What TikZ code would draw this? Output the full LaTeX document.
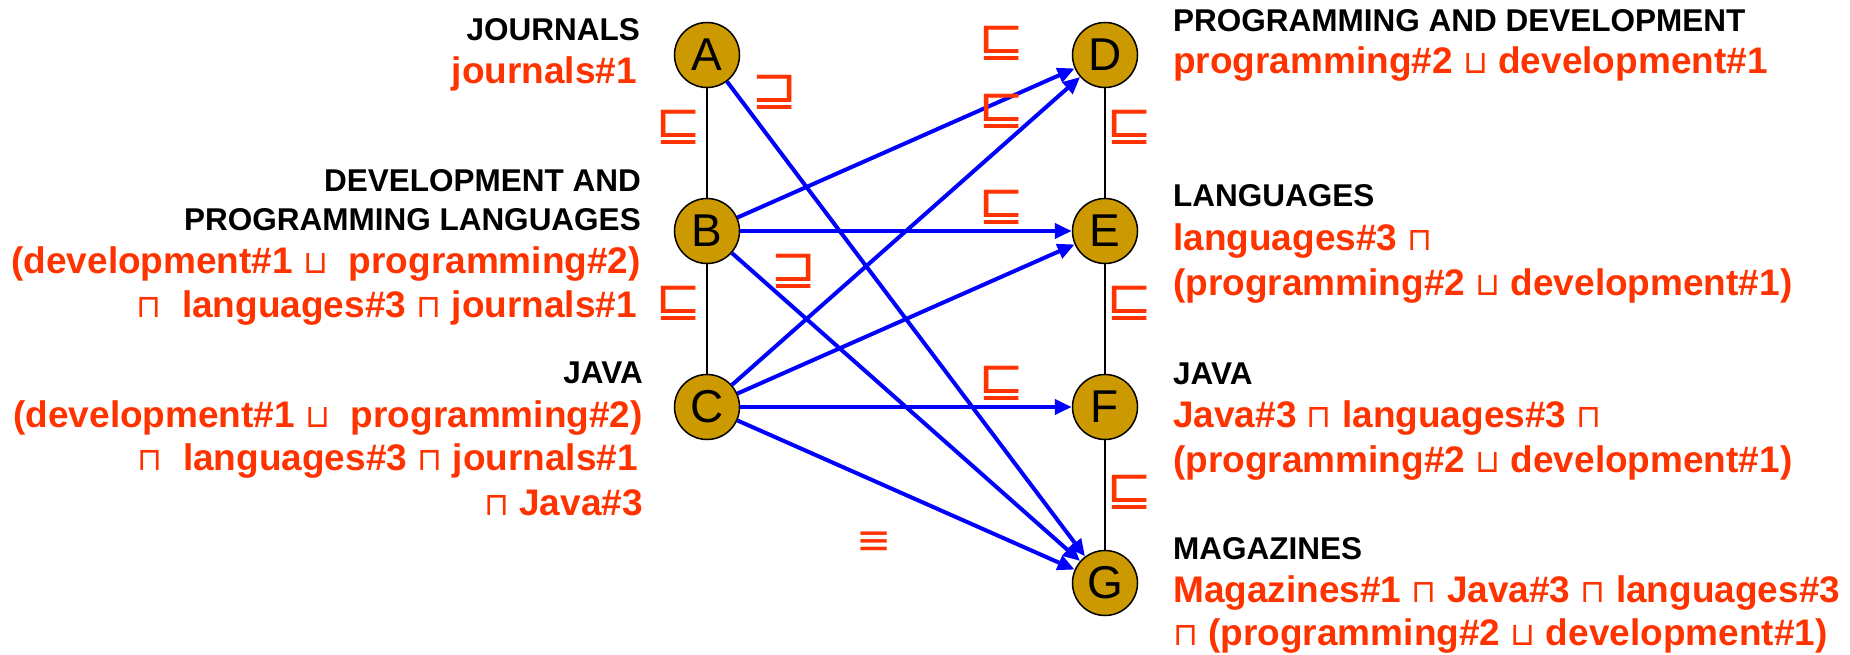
\documentclass[tikz,border=0pt]{standalone}
\usepackage{fontspec}
\setmainfont{Liberation Sans}
\newfontfamily\symfont{DejaVu Sans}
\usetikzlibrary{arrows.meta}
\definecolor{redtxt}{RGB}{255,51,0}
\definecolor{gold}{RGB}{204,153,0}
\definecolor{arrowblue}{RGB}{0,0,255}
\newcommand{\cupsym}{{\symfont\mdseries\fontsize{32}{32}\selectfont ⊔}}
\newcommand{\capsym}{{\symfont\mdseries\fontsize{32}{32}\selectfont ⊓}}
\newcommand{\relwide}[1]{\scalebox{1.15}[1]{#1}}
\begin{document}
\begin{tikzpicture}[x=1pt,y=-1pt,
  vertex/.style={circle, draw=black, line width=1.5pt, fill=gold, minimum size=65pt, inner sep=0pt, font=\fontsize{46}{46}\selectfont},
  ttl/.style={inner sep=0pt, font=\fontsize{31.5}{36}\selectfont\bfseries, text=black},
  expr/.style={inner sep=0pt, font=\fontsize{37}{44}\selectfont\bfseries, text=redtxt},
  rel/.style={inner sep=0pt, font=\symfont\fontsize{48}{48}\selectfont, text=redtxt},
  link/.style={draw=black, line width=1.5pt},
  sub/.style={draw=arrowblue, line width=4pt, -{Triangle[length=17pt,width=15pt]}},
  lft/.style={anchor=base east},
  rgt/.style={anchor=base west},
]
\useasboundingbox (0,0) rectangle (1850,655);

% vertices
\node[vertex] (A) at (707,55) {A};
\node[vertex] (B) at (707,231) {B};
\node[vertex] (C) at (707,407) {C};
\node[vertex] (D) at (1105,55) {D};
\node[vertex] (E) at (1105,231) {E};
\node[vertex] (F) at (1105,407) {F};
\node[vertex] (G) at (1105,583) {G};

% hierarchy links
\draw[link] (A) -- (B);
\draw[link] (B) -- (C);
\draw[link] (D) -- (E);
\draw[link] (E) -- (F);
\draw[link] (F) -- (G);

% mappings
\draw[sub] (A) -- (G);
\draw[sub] (B) -- (D);
\draw[sub] (B) -- (E);
\draw[sub] (B) -- (G);
\draw[sub] (C) -- (D);
\draw[sub] (C) -- (E);
\draw[sub] (C) -- (F);
\draw[sub] (C) -- (G);

% relation labels
\node[rel] (r1) at (679,127) {\relwide{⊑}};
\node[rel] (r2) at (679,303) {\relwide{⊑}};
\node[rel] (r3) at (1130,127) {\relwide{⊑}};
\node[rel] (r4) at (1130,303) {\relwide{⊑}};
\node[rel] (r5) at (1130,492) {\relwide{⊑}};
\node[rel] (r6) at (1002,43) {\relwide{⊑}};
\node[rel] (r7) at (1002,111) {\relwide{⊑}};
\node[rel] (r8) at (1002,207) {\relwide{⊑}};
\node[rel] (r9) at (1002,383) {\relwide{⊑}};
\node[rel] (r10) at (775,92) {\relwide{⊒}};
\node[rel] (r11) at (794,271) {\relwide{⊒}};
\node[rel,font=\symfont\fontsize{42}{42}\selectfont] (r12) at (874,543) {≡};

% left labels
\node[ttl,lft] (lA1) at (640,41) {JOURNALS};
\node[expr,lft] (lA2) at (637,84) {journals\#1};
\node[ttl,lft] (lB1) at (641,192) {DEVELOPMENT AND};
\node[ttl,lft] (lB2) at (641,230) {PROGRAMMING LANGUAGES};
\node[expr,lft] (lB3) at (641,273) {(development\#1 \cupsym\ \ programming\#2)};
\node[expr,lft] (lB4) at (637,317) {\capsym\ \ languages\#3 \capsym\ journals\#1};
\node[ttl,lft] (lC1) at (643,383) {JAVA};
\node[expr,lft] (lC2) at (643,427) {(development\#1 \cupsym\ \ programming\#2)};
\node[expr,lft] (lC3) at (638,470) {\capsym\ \ languages\#3 \capsym\ journals\#1};
\node[expr,lft] (lC4) at (643,515) {\capsym\ Java\#3};

% right labels
\node[ttl,rgt] (rD1) at (1173,32) {PROGRAMMING AND DEVELOPMENT};
\node[expr,rgt] (rD2) at (1173,74) {programming\#2 \cupsym\ development\#1};
\node[ttl,rgt] (rE1) at (1173,207) {LANGUAGES};
\node[expr,rgt] (rE2) at (1173,251) {languages\#3 \capsym};
\node[expr,rgt] (rE3) at (1173,295) {(programming\#2 \cupsym\ development\#1)};
\node[ttl,rgt] (rF1) at (1173,384) {JAVA};
\node[expr,rgt] (rF2) at (1173,427) {Java\#3 \capsym\ languages\#3 \capsym};
\node[expr,rgt] (rF3) at (1173,472) {(programming\#2 \cupsym\ development\#1)};
\node[ttl,rgt] (rG1) at (1173,559) {MAGAZINES};
\node[expr,rgt] (rG2) at (1173,602) {Magazines\#1 \capsym\ Java\#3 \capsym\ languages\#3};
\node[expr,rgt] (rG3) at (1173,645) {\capsym\ (programming\#2 \cupsym\ development\#1)};
\end{tikzpicture}
\end{document}
